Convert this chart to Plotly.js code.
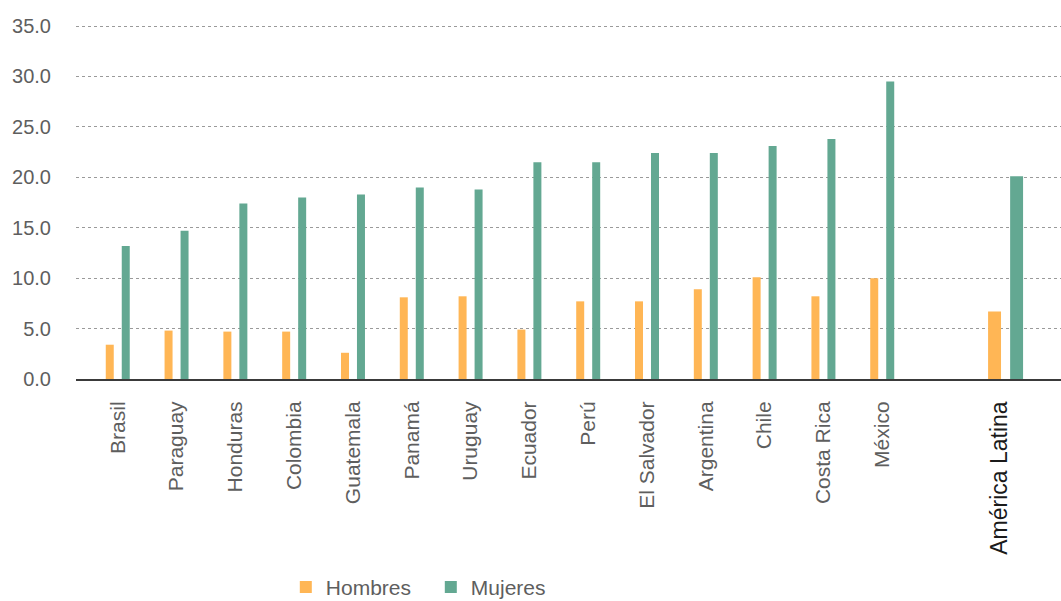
<!DOCTYPE html>
<html>
<head>
<meta charset="utf-8">
<script src="https://cdn.plot.ly/plotly-3.0.1.min.js"></script>
<style>
  html, body { margin: 0; padding: 0; background: #fff; }
  #chart { width: 1061px; height: 601px; }
</style>
</head>
<body>
<div id="chart"></div>
<script>
const categories = ['Brasil', 'Paraguay', 'Honduras', 'Colombia', 'Guatemala', 'Panamá', 'Uruguay',
  'Ecuador', 'Perú', 'El Salvador', 'Argentina', 'Chile', 'Costa Rica', 'México', 'América Latina'];
const hombres = [3.4, 4.8, 4.7, 4.7, 2.6, 8.1, 8.2, 4.9, 7.7, 7.7, 8.9, 10.1, 8.2, 10.0, 6.7];
const mujeres = [13.2, 14.7, 17.4, 18.0, 18.3, 19.0, 18.8, 21.5, 21.5, 22.4, 22.4, 23.1, 23.8, 29.5, 20.1];
const yTicks = [0, 5, 10, 15, 20, 25, 30, 35];

const FONT = '"Liberation Sans Narrow", "Liberation Sans", Arial, sans-serif';
const totalIdx = categories.length - 1;
// position of each category on the axis (a blank slot before the regional total)
const xpos = categories.map((c, i) => (i === totalIdx ? i + 1 : i));
const isTotal = categories.map((c, i) => i === totalIdx);

const ticktext = categories.map((c, i) =>
  isTotal[i] ? '<span style="color:#1a1a1a;font-size:23px">' + c + '</span>' : c);

const traceH = {
  type: 'bar', name: 'Hombres', x: xpos, y: hombres,
  width: isTotal.map(t => t ? 0.22 : 0.136),
  offset: isTotal.map(t => t ? -0.2 : -0.204),
  marker: { color: '#FFB655', line: { width: 0 } },
  hoverinfo: 'y'
};
const traceM = {
  type: 'bar', name: 'Mujeres', x: xpos, y: mujeres,
  width: isTotal.map(t => t ? 0.22 : 0.136),
  offset: isTotal.map(t => t ? 0.175 : 0.068),
  marker: { color: '#63A892', line: { width: 0 } },
  hoverinfo: 'y'
};

const layout = {
  width: 1061, height: 601,
  margin: { l: 76, r: 0, t: 23, b: 222, autoexpand: false },
  paper_bgcolor: '#fff', plot_bgcolor: '#fff',
  font: { family: FONT, size: 21, color: '#5e5e5e' },
  barmode: 'overlay',
  showlegend: true,
  legend: {
    orientation: 'h', x: 0.213, xanchor: 'left', y: -0.585, yanchor: 'middle',
    font: { family: FONT, size: 21, color: '#5e5e5e' },
    itemwidth: 30, entrywidth: 100, bgcolor: 'rgba(0,0,0,0)'
  },
  xaxis: {
    type: 'linear', range: [-0.71, 16.04], automargin: false,
    tickmode: 'array', tickvals: xpos, ticktext: ticktext,
    tickangle: -90, ticks: '', showgrid: false, zeroline: false,
    showline: true, linecolor: '#3a3a3a', linewidth: 2,
    tickfont: { family: FONT, size: 21, color: '#5e5e5e' },
    ticklabelstandoff: 12
  },
  yaxis: {
    range: [0, 35.3], automargin: false, tickmode: 'array', tickvals: yTicks,
    tickformat: '.1f', ticks: '',
    showgrid: true, gridcolor: '#9a9a9a', griddash: 'dot', gridwidth: 1,
    zeroline: false, showline: false,
    tickfont: { family: FONT, size: 20, color: '#5e5e5e' },
    ticklabelstandoff: 24
  }
};

Plotly.newPlot('chart', [traceH, traceM], layout, { displayModeBar: false, staticPlot: true });
</script>
</body>
</html>
